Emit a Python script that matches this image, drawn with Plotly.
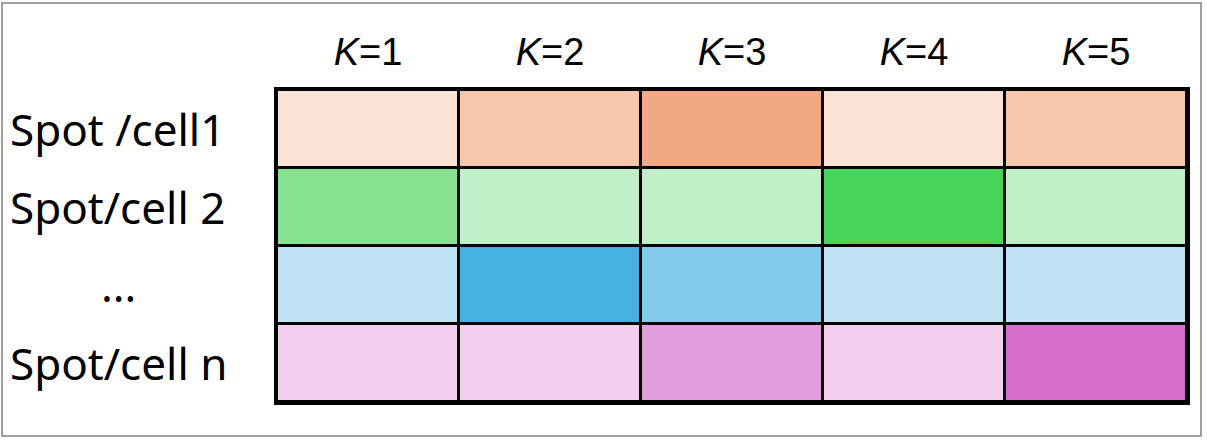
import plotly.graph_objects as go

# columns (K clusters) and rows (spots / cells)
k_values = [1, 2, 3, 4, 5]
row_labels = ["Spot /cell1", "Spot/cell 2", "...", "Spot/cell n"]

# membership intensity per row: 1 = light, 2 = medium, 3 = strong
row1_levels = [1, 2, 3, 1, 2]
row2_levels = [2, 1, 1, 3, 1]
row3_levels = [1, 3, 2, 1, 1]
row4_levels = [1, 1, 2, 1, 3]

# shade palette per row (light -> strong)
orange_shades = ["#FBE2D5", "#F7C7AC", "#F1A983"]
green_shades = ["#C1F0C8", "#86E28E", "#47D45A"]
blue_shades = ["#C0E4F5", "#83CBEB", "#45B0E1"]
pink_shades = ["#F2CEEF", "#E39DDC", "#D76DCC"]

levels = [row1_levels, row2_levels, row3_levels, row4_levels]
palettes = [orange_shades, green_shades, blue_shades, pink_shades]

# one code per (row, level) so a single discrete colorscale covers all rows
z = [[r * 3 + (lv - 1) for lv in row] for r, row in enumerate(levels)]
colors = [c for pal in palettes for c in pal]
n = len(colors)
colorscale = []
for i, c in enumerate(colors):
    colorscale.append([i / n, c])
    colorscale.append([(i + 1) / n, c])

x_labels = [f"<i>K</i>={k}" for k in k_values]

fig = go.Figure(
    go.Heatmap(
        z=z,
        x=x_labels,
        y=row_labels,
        colorscale=colorscale,
        zmin=-0.5,
        zmax=n - 0.5,
        showscale=False,
        xgap=3,
        ygap=3,
        hoverinfo="skip",
    )
)

for lab in row_labels:
    centered = lab == "..."
    fig.add_annotation(
        x=(118 - 277) / 910 if centered else (8 - 277) / 910,
        y=lab,
        xref="paper",
        yref="y",
        text=lab,
        showarrow=False,
        xanchor="center" if centered else "left",
        yanchor="middle",
        font=dict(family="Noto Sans", size=44, color="black"),
    )

# outer frame
fig.add_shape(
    type="rect",
    xref="paper",
    yref="paper",
    x0=(2 - 277) / 910,
    x1=(1201 - 277) / 910,
    y0=-(436 - 402) / 312,
    y1=1 + (90 - 3) / 312,
    line=dict(color="#808080", width=1.5),
)

fig.update_xaxes(
    side="top",
    showgrid=False,
    zeroline=False,
    ticks="",
    ticklabelstandoff=7,
    tickfont=dict(family="Liberation Sans, Arial", size=38, color="black"),
    showline=True,
    mirror=True,
    linecolor="black",
    linewidth=3,
)
fig.update_yaxes(
    autorange="reversed",
    showgrid=False,
    zeroline=False,
    showticklabels=False,
    ticks="",
    showline=True,
    mirror=True,
    linecolor="black",
    linewidth=3,
)

fig.update_layout(
    width=1207,
    height=440,
    margin=dict(l=277, r=20, t=90, b=38),
    paper_bgcolor="white",
    plot_bgcolor="black",
)

fig.write_html(
    "out.html",
    config={"displayModeBar": False},
    post_script="document.body.style.margin='0';",
)
